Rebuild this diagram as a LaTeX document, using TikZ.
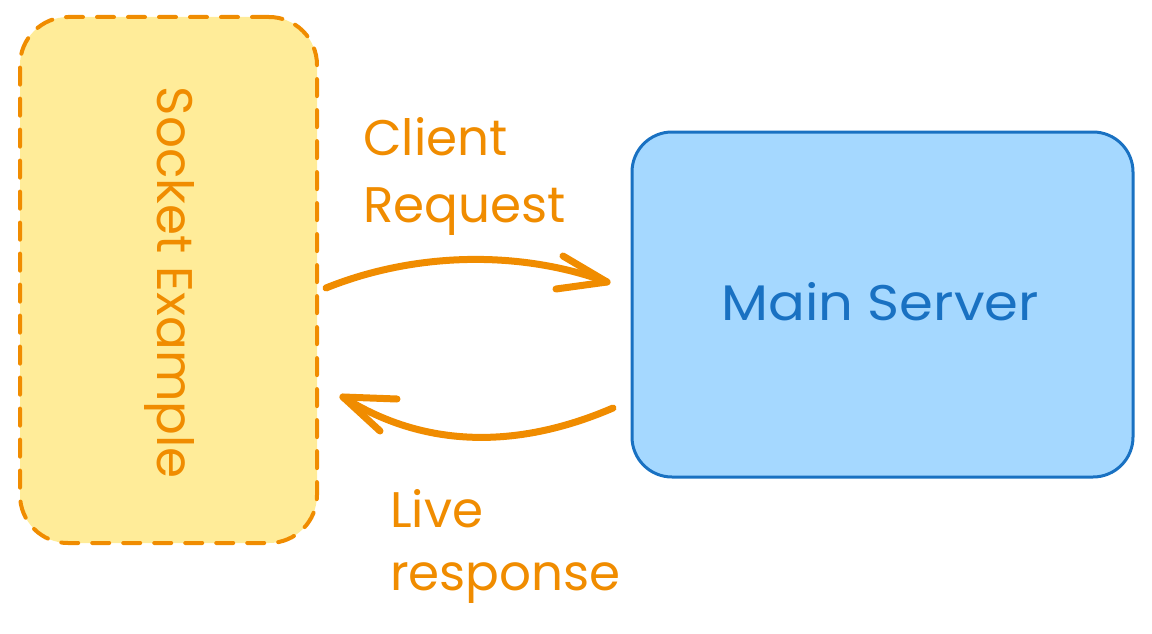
\documentclass[tikz,border=0pt]{standalone}
\usepackage{fontspec}
\setmainfont{Poppins}
\begin{document}
\begin{tikzpicture}[x=1pt,y=-1pt,
  sockbox/.style={draw={rgb,255:red,240;green,140;blue,0}, fill={rgb,255:red,255;green,236;blue,153}, line width=4pt, dash pattern=on 17pt off 14pt, line cap=round, rounded corners=48pt, minimum width=297pt, minimum height=526pt, inner sep=0pt},
  servbox/.style={draw={rgb,255:red,25;green,113;blue,194}, fill={rgb,255:red,165;green,216;blue,255}, line width=3pt, rounded corners=40pt, minimum width=501pt, minimum height=345pt, inner sep=0pt},
  lbl/.style={font=\fontsize{50}{67}\selectfont, inner sep=0pt},
  orangetext/.style={lbl, text={rgb,255:red,240;green,140;blue,0}},
  conn/.style={draw={rgb,255:red,240;green,140;blue,0}, line width=7pt, line cap=round, line join=round}
]
\useasboundingbox (0,0) rectangle (1152,634);
\node[sockbox] (sock) at (168.5,280) {};
\node[servbox] (serv) at (882.5,304.5) {};
\node[orangetext, rotate=-90, anchor=base] (socklbl) at (157,283) {Socket Example};
\node[lbl, xscale=1.09, anchor=base, text={rgb,255:red,25;green,113;blue,194}] (servlbl) at (880,320) {Main Server};
\node[orangetext, anchor=base west] (reqa) at (363,155) {Client};
\node[orangetext, anchor=base west] (reqb) at (363,222) {Request};
\node[orangetext, anchor=base west] (respa) at (390,527) {Live};
\node[orangetext, anchor=base west] (respb) at (390,590) {response};
% arrow 1
\coordinate (a1s) at (326,288);
\coordinate (a1t) at (607,282);
\coordinate (a1u) at (563,256);
\coordinate (a1l) at (556,289);
\draw[conn] (a1s) .. controls (415,252) and (520,250) .. (a1t);
\draw[conn] (a1u) -- (a1t) -- (a1l);
% arrow 2
\coordinate (a2s) at (613,408);
\coordinate (a2t) at (343,397);
\coordinate (a2u) at (397,399);
\coordinate (a2l) at (380,431);
\draw[conn] (a2s) .. controls (525,446) and (430,452) .. (a2t);
\draw[conn] (a2u) -- (a2t) -- (a2l);
\end{tikzpicture}
\end{document}
